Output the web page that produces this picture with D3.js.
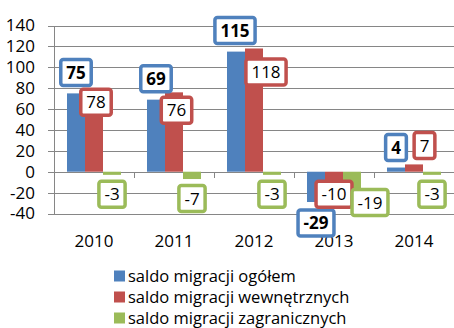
<!DOCTYPE html>
<html><head><meta charset="utf-8">
<script src="https://cdn.jsdelivr.net/npm/d3@7"></script>
<style>
body{margin:0;background:#fff}
svg{display:block}
text{font-family:"Open Sans",sans-serif;fill:#000}
</style>
</head><body>
<svg id="chart" width="454" height="328"></svg>
<script>
// ---- data ----
const years = ["2010", "2011", "2012", "2013", "2014"];
const seriesNames = ["saldo migracji ogółem", "saldo migracji wewnętrznych", "saldo migracji zagranicznych"];
const totalValues = [75, 69, 115, -29, 4];
const internalValues = [78, 76, 118, -10, 7];
const foreignValues = [-3, -7, -3, -19, -3];
const yTickValues = [-40, -20, 0, 20, 40, 60, 80, 100, 120, 140];

// ---- label placement (pixel offsets from bar end, manual as in source) ----
const totalLabelDx = [0, 0, -1, 0, 0];
const totalLabelDy = [-21, -21, -21, 21, -20];
const internalLabelDx = [2, 2.5, 12, 0, 10.5];
const internalLabelDy = [12, 18, 23.5, 12, -19];
const foreignLabelDx = [0, 0, 0, 18, 0];
const foreignLabelDy = [19.5, 19.5, 19.5, 11, 19.5];

// ---- styles ----
const colors = ["#4F81BD", "#C0504D", "#9BBB59"];
const gridColor = "#868686";
const fmt = v => String(v); // plain hyphen-minus as in source

const series = [
  {name: seriesNames[0], values: totalValues, dx: totalLabelDx, dy: totalLabelDy, bold: true},
  {name: seriesNames[1], values: internalValues, dx: internalLabelDx, dy: internalLabelDy, bold: false},
  {name: seriesNames[2], values: foreignValues, dx: foreignLabelDx, dy: foreignLabelDy, bold: false}
];

const svg = d3.select("#chart");
const x0 = d3.scaleBand().domain(years).range([54, 454]);
const x1 = d3.scaleBand().domain(d3.range(series.length)).range([0, x0.bandwidth()]).paddingInner(0).paddingOuter(0.722);
const y = d3.scaleLinear().domain([-40, 140]).range([213.5, 25.5]);

// gridlines + y axis
const yAxis = d3.axisLeft(y).tickValues(yTickValues).tickSize(6).tickPadding(13).tickFormat(fmt);
const gy = svg.append("g").attr("transform", "translate(54,0)").call(yAxis);
gy.select(".domain").attr("stroke", gridColor).attr("stroke-width", 1);
gy.selectAll(".tick line").attr("stroke", gridColor);
gy.selectAll(".tick text").attr("font-size", 17).attr("fill", "#000");
gy.selectAll(".tick").append("line")
  .attr("x1", 0).attr("x2", 400).attr("y1", 0).attr("y2", 0)
  .attr("stroke", gridColor).attr("stroke-width", 1);
gy.attr("shape-rendering", "crispEdges");

// category ticks on zero line
const gx = svg.append("g").attr("shape-rendering", "crispEdges");
gx.selectAll("line.ct").data(years.slice(1)).join("line")
  .attr("x1", d => x0(d)).attr("x2", d => x0(d))
  .attr("y1", y(0)).attr("y2", y(0) + 6)
  .attr("stroke", gridColor);

// category labels
svg.append("g").selectAll("text").data(years).join("text")
  .attr("x", d => x0(d) + x0.bandwidth() / 2)
  .attr("y", 247)
  .attr("text-anchor", "middle")
  .attr("font-size", 17)
  .text(d => d);

// bars
series.forEach((s, si) => {
  svg.append("g").selectAll("rect").data(s.values).join("rect")
    .attr("x", (d, i) => x0(years[i]) + x1(si))
    .attr("width", x1.bandwidth())
    .attr("y", d => y(Math.max(0, d)))
    .attr("height", d => Math.abs(y(d) - y(0)))
    .attr("fill", colors[si]);
});

// data labels
series.forEach((s, si) => {
  const g = svg.append("g");
  s.values.forEach((v, i) => {
    const cx = x0(years[i]) + x1(si) + x1.bandwidth() / 2 + s.dx[i];
    const cy = y(v) + s.dy[i];
    const lg = g.append("g").attr("transform", `translate(${cx},${cy})`);
    const rect = lg.append("rect").attr("fill", "#fff").attr("stroke", colors[si]).attr("stroke-width", 3.5).attr("rx", 2.5);
    const t = lg.append("text").attr("text-anchor", "middle").attr("dy", "0.36em")
      .attr("font-size", 17).attr("font-weight", s.bold ? "bold" : "normal").text(fmt(v));
    const w = t.node().getComputedTextLength() + 11;
    const h = 26;
    rect.attr("x", -w / 2).attr("y", -h / 2).attr("width", w).attr("height", h);
  });
});

// legend
const lg = svg.append("g");
series.forEach((s, si) => {
  const ly = 276 + si * 21;
  lg.append("rect").attr("x", 114).attr("y", ly - 5.5).attr("width", 11).attr("height", 11).attr("fill", colors[si]);
  lg.append("text").attr("x", 128).attr("y", ly).attr("dy", "0.36em").attr("font-size", 16.5).text(s.name);
});
</script>
</body></html>
